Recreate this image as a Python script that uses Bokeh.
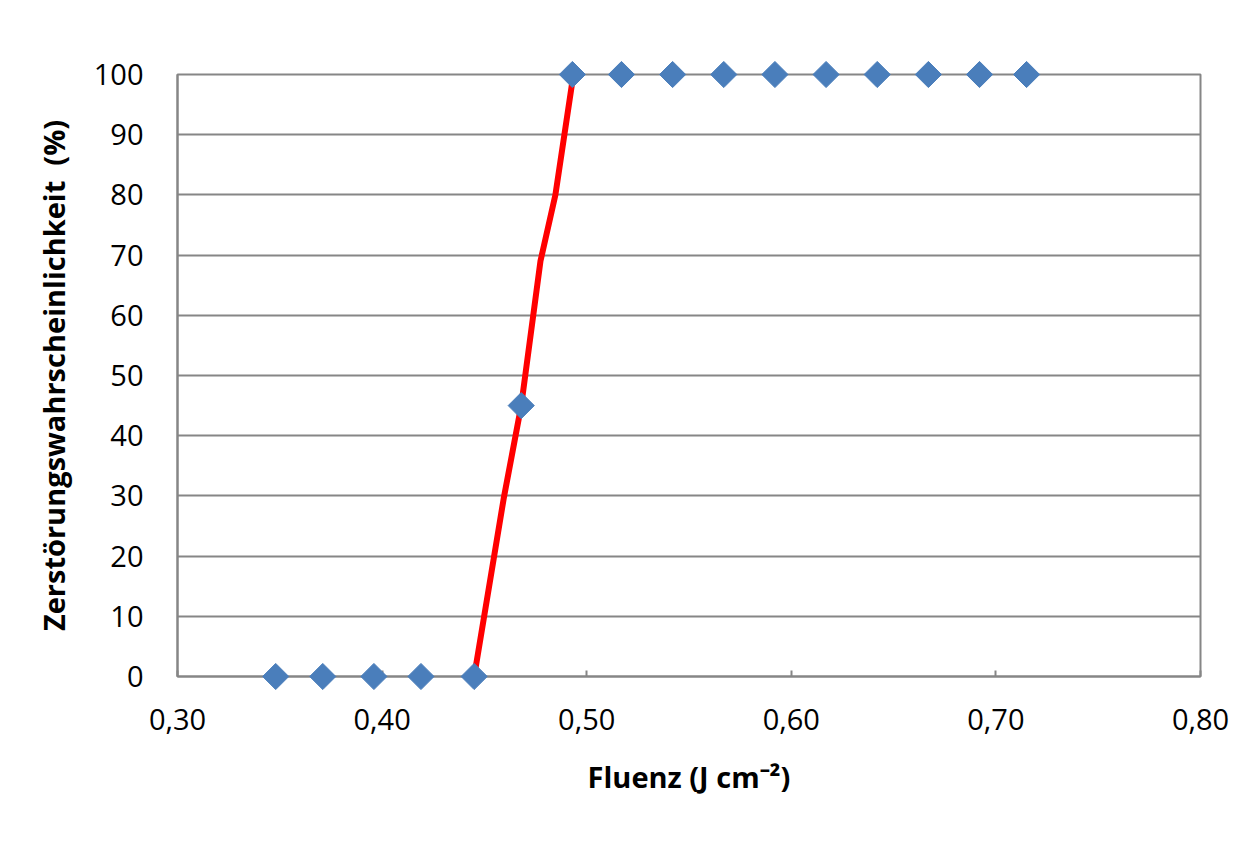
import numpy as np
from bokeh.plotting import figure
from bokeh.models import Range1d, FixedTicker
from bokeh.embed import file_html
from bokeh.resources import INLINE

# ---- data ----
fluence = [0.348, 0.371, 0.396, 0.419, 0.445, 0.468, 0.493, 0.517, 0.542,
           0.567, 0.592, 0.617, 0.642, 0.667, 0.692, 0.715]
probability = [0, 0, 0, 0, 0, 45, 100, 100, 100, 100, 100, 100, 100, 100, 100, 100]

fit_fluence = [0.445, 0.4594, 0.468, 0.4774, 0.4847, 0.4935]
fit_probability = [0, 29.5, 45, 69, 80, 100]

x_ticks = [0.30, 0.40, 0.50, 0.60, 0.70, 0.80]
x_tick_labels = ["0,30", "0,40", "0,50", "0,60", "0,70", "0,80"]
y_ticks = [0, 10, 20, 30, 40, 50, 60, 70, 80, 90, 100]

FONT = "Open Sans"
GRAY = "#868686"

p = figure(width=1230, height=830, output_backend="svg", toolbar_location=None,
           x_range=Range1d(0.30, 0.80), y_range=Range1d(0, 100),
           min_border_left=177, min_border_right=30,
           min_border_top=74, min_border_bottom=154)

p.line(fit_fluence, fit_probability, line_color="#FF0000", line_width=6,
       level="overlay")
p.scatter(fluence, probability, marker="square", angle=np.pi / 4, size=18.5,
          fill_color="#4A7EBB", line_color="#4A7EBB", level="overlay")

p.outline_line_color = GRAY
p.outline_line_width = 2
p.xgrid.grid_line_color = None
p.ygrid.grid_line_color = GRAY
p.ygrid.grid_line_width = 2
p.ygrid.ticker = FixedTicker(ticks=y_ticks)

xa = p.xaxis[0]
xa.ticker = FixedTicker(ticks=x_ticks)
xa.major_label_overrides = {t: l for t, l in zip(x_ticks, x_tick_labels)}
xa.axis_line_color = GRAY
xa.axis_line_width = 2
xa.major_tick_line_color = GRAY
xa.major_tick_line_width = 2
xa.major_tick_in = 6
xa.major_tick_out = 0
xa.minor_tick_line_color = None
xa.major_label_standoff = 32
xa.major_label_text_font = FONT
xa.major_label_text_font_size = "29px"
xa.major_label_text_color = "#000000"
xa.axis_label = "Fluenz (J cm\u207b\u00b2)"
xa.axis_label_text_font = FONT
xa.axis_label_text_font_size = "29px"
xa.axis_label_text_font_style = "bold"
xa.axis_label_text_color = "#000000"
xa.axis_label_standoff = 24

ya = p.yaxis[0]
ya.ticker = FixedTicker(ticks=y_ticks)
ya.axis_line_color = GRAY
ya.axis_line_width = 2
ya.major_tick_line_color = None
ya.major_tick_in = 0
ya.major_tick_out = 0
ya.minor_tick_line_color = None
ya.major_label_standoff = 34
ya.major_label_text_font = FONT
ya.major_label_text_font_size = "29px"
ya.major_label_text_color = "#000000"
ya.axis_label = "Zerstörungswahrscheinlichkeit\u00a0\u00a0(%)"
ya.axis_label_text_font = FONT
ya.axis_label_text_font_size = "29px"
ya.axis_label_text_font_style = "bold"
ya.axis_label_text_color = "#000000"
ya.axis_label_standoff = 18

with open("out.html", "w") as f:
    f.write(file_html(p, INLINE))
